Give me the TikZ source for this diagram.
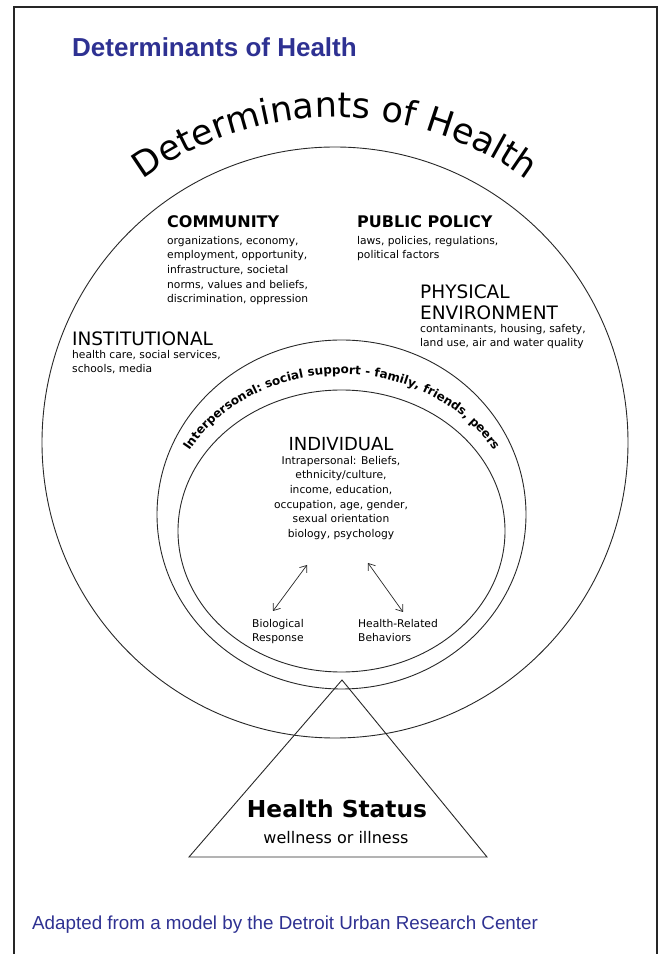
\documentclass[tikz,border=0pt]{standalone}
\usepackage{fontspec}
\setmainfont{DejaVu Sans}
\newfontfamily\arialfont{Liberation Sans}
\usetikzlibrary{decorations.text,arrows.meta}
\definecolor{titleblue}{RGB}{46,49,146}
\definecolor{linegray}{RGB}{40,40,40}
\begin{document}
\begin{tikzpicture}[x=1pt,y=1pt,
  ring/.style={draw=linegray,line width=0.9pt},
  headb/.style={inner sep=0pt,font=\fontsize{16}{19}\selectfont\bfseries},
  headr/.style={inner sep=0pt,font=\fontsize{18.5}{21}\selectfont},
  body/.style={inner sep=0pt,align=left,font=\fontsize{10.7}{14.6}\selectfont},
  dbl/.style={{Straight Barb[length=6pt,width=9pt]}-{Straight Barb[length=6pt,width=9pt]}, line width=0.7pt, draw=linegray}]
\useasboundingbox (0,0) rectangle (660,954);
\fill[white] (0,0) rectangle (660,954);
\draw[line width=2pt, black!85] (14,0) -- (14,947) -- (656.5,947) -- (656.5,0);
% title
\node[anchor=base west, inner sep=0pt, text=titleblue, font=\arialfont\bfseries\fontsize{26}{30}\selectfont] (title) at (72,897) {Determinants of Health};
% rings
\draw[ring] (335,511.5) ellipse[x radius=293, y radius=295.5];
\draw[ring] (341.5,439.5) ellipse[x radius=184.5, y radius=174.5];
\draw[ring] (341.5,423) ellipse[x radius=163.5, y radius=141];
% curved titles
\path[decorate, decoration={text along path, text align=center,
  text={|\fontsize{35}{35}\selectfont|Determinants of Health}}]
  (126.1,760.5) arc[start angle=130, end angle=50, radius=325];
\path[decorate, decoration={text along path, text align=center,
  text={|\fontsize{12}{12}\selectfont\bfseries|Interpersonal: social support - family, friends, peers}}]
  (188.2,501.5) arc[start angle=150, end angle=30, x radius=177, y radius=157];
% community
\node[headb, anchor=north west] (comm) at (167,739) {COMMUNITY};
\node[body, anchor=north west] (commb) at (167,718) {organizations, economy,\\employment, opportunity,\\infrastructure, societal\\norms, values and beliefs,\\discrimination, oppression};
% public policy
\node[headb, anchor=north west] (pol) at (357,739) {PUBLIC POLICY};
\node[body, anchor=north west] (polb) at (357,718) {laws, policies, regulations,\\political factors};
% physical environment
\node[headr, anchor=north west, align=left] (phys) at (420,669) {PHYSICAL\\ENVIRONMENT};
\node[body, anchor=north west] (physb) at (420,630) {contaminants, housing, safety,\\land use, air and water quality};
% institutional
\node[headr, anchor=north west] (inst) at (72,622) {INSTITUTIONAL};
\node[body, anchor=north west] (instb) at (72,604) {health care, social services,\\schools, media};
% individual
\node[headr, anchor=north, font=\fontsize{18}{21}\selectfont] (ind) at (341,517) {INDIVIDUAL};
\node[body, anchor=north, align=center] (indb) at (341,498) {Intrapersonal: Beliefs,\\ethnicity/culture,\\income, education,\\occupation, age, gender,\\sexual orientation\\biology, psychology};
% outcomes
\node[body, anchor=north west] (bio) at (252,335) {Biological\\Response};
\node[body, anchor=north west] (beh) at (358,335) {Health-Related\\Behaviors};
\coordinate (a1) at (307,389);
\coordinate (b1) at (273,343);
\coordinate (a2) at (368,391);
\coordinate (b2) at (403,342);
\draw[dbl] (a1) -- (b1);
\draw[dbl] (a2) -- (b2);
% triangle
\coordinate (apex) at (342,274);
\coordinate (bl) at (189,97);
\coordinate (br) at (487,97);
\draw[ring] (apex) -- (bl) -- (br) -- cycle;
\node[anchor=base, inner sep=0pt, font=\fontsize{23.3}{26}\selectfont\bfseries] (hs) at (337,136) {Health Status};
\node[anchor=base, inner sep=0pt, font=\fontsize{16}{19}\selectfont] (wi) at (336,110) {wellness or illness};
% footer
\node[anchor=base west, inner sep=0pt, text=titleblue, font=\arialfont\fontsize{18.8}{22}\selectfont] (foot) at (32,24) {Adapted from a model by the Detroit Urban Research Center};
\end{tikzpicture}
\end{document}
